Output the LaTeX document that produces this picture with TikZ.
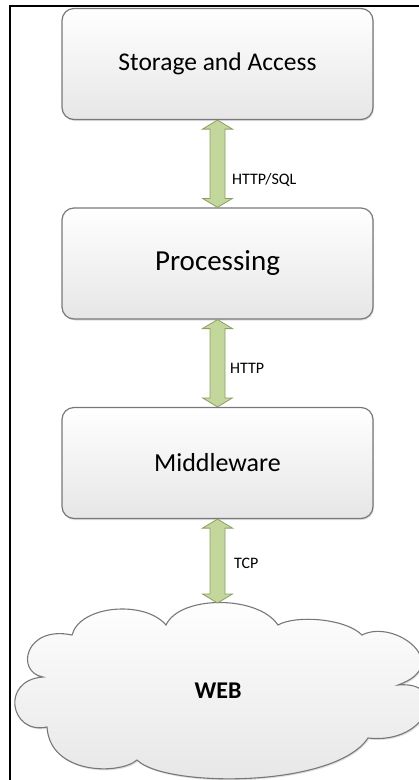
\documentclass[tikz,border=0pt]{standalone}
\usepackage{fontspec}
\setmainfont{Carlito}
\usetikzlibrary{calc,shadows}
\definecolor{arrfill}{RGB}{195,214,155}
\definecolor{arrline}{RGB}{140,160,100}
\definecolor{boxline}{RGB}{120,120,120}
\definecolor{boxbot}{RGB}{230,230,230}
\begin{document}
\begin{tikzpicture}[x=1pt,y=-1pt,
  box/.style={draw=boxline, line width=1.2pt, rounded corners=12pt,
    top color=white, bottom color=boxbot,
    minimum width=311pt, minimum height=111pt, inner sep=0pt,
    drop shadow={opacity=0.25,shadow xshift=1pt,shadow yshift=-1.5pt}},
  cloudsty/.style={draw=boxline, line width=1.1pt, top color=white, bottom color=boxbot,
    drop shadow={opacity=0.25,shadow xshift=1pt,shadow yshift=-1.5pt}},
  blk/.style={fill=arrfill, draw=arrline, line width=0.8pt, line join=miter},
  lbl/.style={font=\fontsize{16}{18}\selectfont, anchor=west, inner sep=0pt},
  frame/.style={draw=black, line width=2pt}]
\useasboundingbox (0,0) rectangle (419,780);
% frame (left and top edges)
\coordinate (ftl) at (10,5.5);
\coordinate (fbl) at (10,781);
\coordinate (ftr) at (420,5.5);
\draw[frame] (fbl) -- (ftl) -- (ftr);
% cloud
\begin{scope}
\clip (0,0) rectangle (419,780);
\path[cloudsty] (166,625)
  .. controls (180,595) and (258,595) .. (278,625)
  .. controls (295,615) and (345,618) .. (362,635)
  .. controls (395,618) and (455,665) .. (398,685)
  .. controls (450,680) and (430,745) .. (368,738)
  .. controls (335,788) and (165,788) .. (137,760)
  .. controls (120,775) and (50,775) .. (47,727)
  .. controls (10,735) and (0,680) .. (43,677)
  .. controls (15,672) and (25,625) .. (72,635)
  .. controls (80,605) and (145,600) .. (166,625) -- cycle;
\end{scope}
\coordinate (web) at (217.5,603);
\node[font=\fontsize{24}{28}\selectfont\bfseries] (wl) at (218,691) {WEB};
% boxes
\node[box, font=\fontsize{25.5}{30}\selectfont] (s) at (217.5,64) {Storage and Access};
\node[box, font=\fontsize{29}{34}\selectfont] (p) at (217.5,263.5) {Processing};
\node[box, font=\fontsize{26}{31}\selectfont] (m) at (217.5,463) {Middleware};
% block arrows
\draw[blk] (s.south) -- ++(15,9) -- ++(-7.5,0) -- ($(p.north)+(7.5,-9)$) -- ++(7.5,0)
  -- (p.north) -- ++(-15,-9) -- ++(7.5,0) -- ($(s.south)+(-7.5,9)$) -- ++(-7.5,0) -- cycle;
\draw[blk] (p.south) -- ++(15,9) -- ++(-7.5,0) -- ($(m.north)+(7.5,-9)$) -- ++(7.5,0)
  -- (m.north) -- ++(-15,-9) -- ++(7.5,0) -- ($(p.south)+(-7.5,9)$) -- ++(-7.5,0) -- cycle;
\draw[blk] (m.south) -- ++(15,9) -- ++(-7.5,0) -- ($(web)+(7.5,-9)$) -- ++(7.5,0)
  -- (web) -- ++(-15,-9) -- ++(7.5,0) -- ($(m.south)+(-7.5,9)$) -- ++(-7.5,0) -- cycle;
% labels
\node[lbl] (l1) at (232,180) {HTTP/SQL};
\node[lbl] (l2) at (230,368) {HTTP};
\node[lbl] (l3) at (234,563) {TCP};
\end{tikzpicture}
\end{document}
